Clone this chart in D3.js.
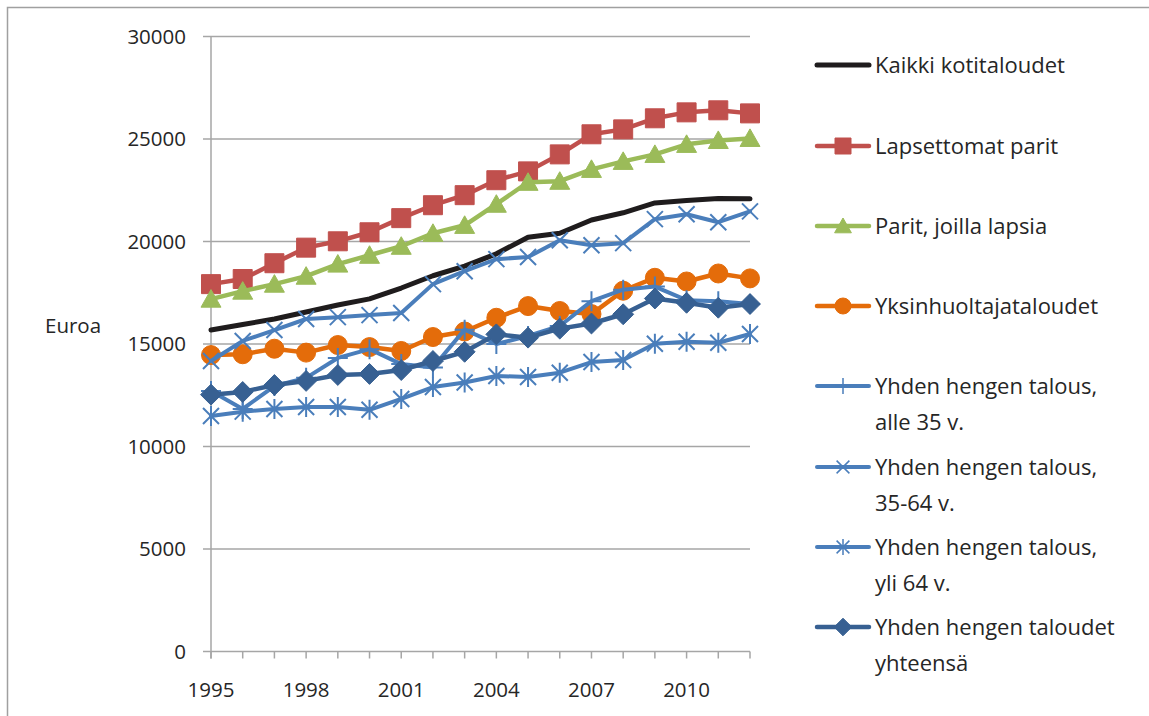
<!DOCTYPE html>
<html>
<head>
<meta charset="utf-8">
<script src="https://cdn.jsdelivr.net/npm/d3@7"></script>
<style>
  body { margin: 0; background: #fff; }
  svg text { font-family: "Open Sans", "Noto Sans", sans-serif; fill: #262626; }
</style>
</head>
<body>
<div id="chart"></div>
<script>
var years = d3.range(1995, 2013);
var yTicks = [0, 5000, 10000, 15000, 20000, 25000, 30000];
var xLabels = [1995, 1998, 2001, 2004, 2007, 2010];

var kaikki = [15680, 15950, 16220, 16560, 16900, 17200, 17730, 18330, 18800, 19400, 20210, 20400, 21050, 21400, 21880, 22000, 22100, 22080];
var lapsettomat = [17920, 18170, 18940, 19700, 20010, 20450, 21140, 21770, 22260, 22990, 23420, 24250, 25230, 25470, 26010, 26300, 26400, 26250];
var lapsia = [17190, 17580, 17920, 18310, 18900, 19330, 19770, 20400, 20790, 21820, 22890, 22940, 23520, 23910, 24250, 24740, 24930, 25030];
var yksinhuolto = [14460, 14500, 14770, 14580, 14950, 14850, 14660, 15340, 15610, 16280, 16850, 16610, 16460, 17600, 18230, 18050, 18440, 18200];
var alle35 = [12710, 11830, 12950, 13350, 14320, 14750, 14020, 13850, 15700, 15000, 15390, 15880, 17090, 17650, 17800, 17140, 17090, 16950];
var v35_64 = [14170, 15150, 15680, 16220, 16310, 16410, 16510, 17920, 18550, 19140, 19240, 20060, 19820, 19920, 21090, 21330, 20940, 21470];
var yli64 = [11490, 11700, 11830, 11930, 11930, 11790, 12320, 12900, 13120, 13440, 13390, 13600, 14120, 14220, 15010, 15110, 15060, 15490];
var yhteensa = [12530, 12660, 13000, 13200, 13490, 13540, 13730, 14170, 14620, 15470, 15310, 15750, 16000, 16450, 17220, 17010, 16770, 16950];

var series = [
  { name: ["Kaikki kotitaloudet"], values: kaikki, color: "#1f1c1d", width: 5, marker: "none" },
  { name: ["Lapsettomat parit"], values: lapsettomat, color: "#c0504d", width: 4.5, marker: "square" },
  { name: ["Parit, joilla lapsia"], values: lapsia, color: "#9bbb59", width: 4.5, marker: "triangle" },
  { name: ["Yksinhuoltajataloudet"], values: yksinhuolto, color: "#e46c0a", width: 4.5, marker: "circle" },
  { name: ["Yhden hengen talous,", "alle 35 v."], values: alle35, color: "#4a7ebb", width: 4, marker: "plus" },
  { name: ["Yhden hengen talous,", "35-64 v."], values: v35_64, color: "#4a7ebb", width: 4, marker: "x" },
  { name: ["Yhden hengen talous,", "yli 64 v."], values: yli64, color: "#4a7ebb", width: 4, marker: "star" },
  { name: ["Yhden hengen taloudet", "yhteensä"], values: yhteensa, color: "#376092", width: 4.5, marker: "diamond" }
];

var width = 1149, height = 716;

var svg = d3.select("#chart")
  .append("svg")
  .attr("width", width)
  .attr("height", height);

// chart frame
svg.append("rect")
  .attr("x", 7.5).attr("y", 7.5)
  .attr("width", 1160).attr("height", 730)
  .attr("fill", "none")
  .attr("stroke", "#a0a0a0")
  .attr("stroke-width", 1.5);

var x = d3.scaleLinear().domain([1995, 2012]).range([211, 750]);
var y = d3.scaleLinear().domain([0, 30000]).range([651.5, 36.5]);

// gridlines
svg.append("g")
  .selectAll("line")
  .data(yTicks)
  .enter().append("line")
  .attr("x1", 203).attr("x2", 750)
  .attr("y1", function(d) { return y(d); })
  .attr("y2", function(d) { return y(d); })
  .attr("stroke", "#a6a6a6")
  .attr("stroke-width", 1.5);

// y axis line
svg.append("line")
  .attr("x1", x(1995)).attr("x2", x(1995))
  .attr("y1", y(30000)).attr("y2", y(0) + 7)
  .attr("stroke", "#a6a6a6").attr("stroke-width", 1.5);

// x ticks
svg.append("g")
  .selectAll("line")
  .data(years)
  .enter().append("line")
  .attr("x1", function(d) { return x(d); })
  .attr("x2", function(d) { return x(d); })
  .attr("y1", y(0)).attr("y2", y(0) + 7)
  .attr("stroke", "#a6a6a6").attr("stroke-width", 1.5);

// y labels
svg.append("g")
  .selectAll("text")
  .data(yTicks)
  .enter().append("text")
  .attr("x", 186)
  .attr("y", function(d) { return y(d); })
  .attr("dy", "0.35em")
  .attr("text-anchor", "end")
  .attr("font-size", 20.5)
  .text(function(d) { return d; });

// x labels
svg.append("g")
  .selectAll("text")
  .data(xLabels)
  .enter().append("text")
  .attr("x", function(d) { return x(d); })
  .attr("y", 690)
  .attr("dy", "0.35em")
  .attr("text-anchor", "middle")
  .attr("font-size", 20.5)
  .text(function(d) { return d; });

svg.append("text")
  .attr("x", 45).attr("y", 326)
  .attr("dy", "0.35em")
  .attr("font-size", 20.5)
  .text("Euroa");

function markerPath(type, r) {
  var p = d3.path();
  if (type == "square") {
    p.rect(-r, -r, 2 * r, 2 * r);
  } else if (type == "triangle") {
    p.moveTo(0, -r); p.lineTo(r * 1.05, r * 0.85); p.lineTo(-r * 1.05, r * 0.85); p.closePath();
  } else if (type == "circle") {
    p.arc(0, 0, r, 0, 2 * Math.PI);
  } else if (type == "diamond") {
    p.moveTo(0, -r * 1.1); p.lineTo(r * 1.1, 0); p.lineTo(0, r * 1.1); p.lineTo(-r * 1.1, 0); p.closePath();
  } else if (type == "plus") {
    p.moveTo(-r, 0); p.lineTo(r, 0); p.moveTo(0, -r); p.lineTo(0, r);
  } else if (type == "x") {
    var a = r * 0.8;
    p.moveTo(-a, -a); p.lineTo(a, a); p.moveTo(a, -a); p.lineTo(-a, a);
  } else if (type == "star") {
    var b = r * 0.8;
    p.moveTo(-b, -b); p.lineTo(b, b); p.moveTo(b, -b); p.lineTo(-b, b);
    p.moveTo(0, -r); p.lineTo(0, r);
  }
  return p.toString();
}

function isFilled(type) {
  return type == "square" || type == "triangle" || type == "circle" || type == "diamond";
}

var line = d3.line()
  .x(function(d, i) { return x(years[i]); })
  .y(function(d) { return y(d); });

series.forEach(function(s) {
  var g = svg.append("g");
  g.append("path")
    .datum(s.values)
    .attr("fill", "none")
    .attr("stroke", s.color)
    .attr("stroke-width", s.width)
    .attr("stroke-linejoin", "round")
    .attr("stroke-linecap", "round")
    .attr("d", line);

  if (s.marker != "none") {
    var r = isFilled(s.marker) ? 9.5 : 10;
    g.selectAll(".m")
      .data(s.values)
      .enter().append("path")
      .attr("class", "m")
      .attr("transform", function(d, i) { return "translate(" + x(years[i]) + "," + y(d) + ")"; })
      .attr("d", markerPath(s.marker, r))
      .attr("fill", isFilled(s.marker) ? s.color : "none")
      .attr("stroke", s.color)
      .attr("stroke-width", isFilled(s.marker) ? 1 : 2);
  }
});

// legend
var legendY = [65, 146, 226, 306, 386, 467, 547, 627];
var legend = svg.append("g");
series.forEach(function(s, i) {
  var ly = legendY[i];
  legend.append("line")
    .attr("x1", 817).attr("x2", 869)
    .attr("y1", ly).attr("y2", ly)
    .attr("stroke", s.color)
    .attr("stroke-width", s.width)
    .attr("stroke-linecap", "round");
  if (s.marker != "none") {
    legend.append("path")
      .attr("transform", "translate(843," + ly + ")")
      .attr("d", markerPath(s.marker, 8))
      .attr("fill", isFilled(s.marker) ? s.color : "none")
      .attr("stroke", s.color)
      .attr("stroke-width", isFilled(s.marker) ? 1 : 1.5);
  }
  s.name.forEach(function(t, j) {
    legend.append("text")
      .attr("x", 875)
      .attr("y", ly + j * 36)
      .attr("dy", "0.35em")
      .attr("font-size", 22)
      .text(t);
  });
});
</script>
</body>
</html>
